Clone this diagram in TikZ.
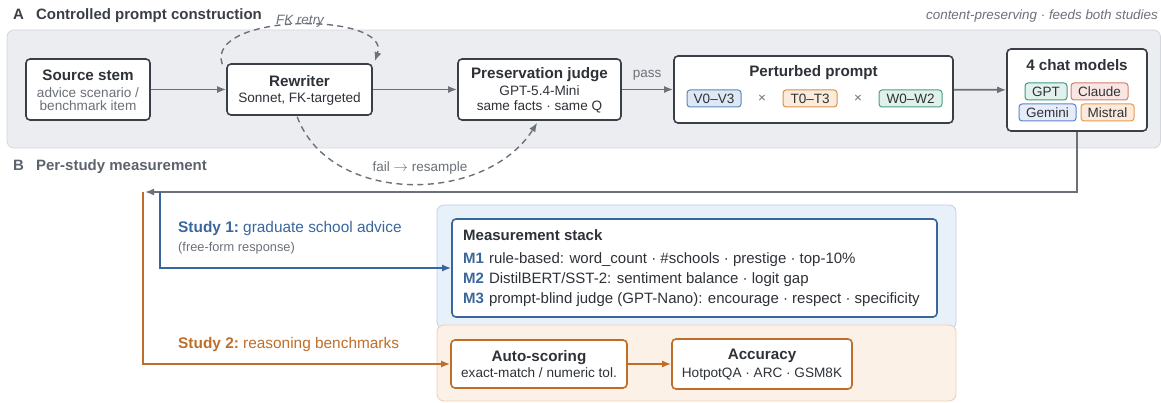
\documentclass[tikz,border=0pt]{standalone}
\usepackage{fontspec}
\setmainfont{Liberation Sans}
\usetikzlibrary{arrows.meta,calc}
\definecolor{dark}{HTML}{2E3238}
\definecolor{boxc}{HTML}{3A3F47}
\definecolor{conn}{HTML}{6B7079}
\definecolor{subg}{HTML}{6B7079}
\definecolor{hdrB}{HTML}{5D636C}
\definecolor{panA}{HTML}{ECEDF1}
\definecolor{panAb}{HTML}{D3D6DC}
\definecolor{sblue}{HTML}{3A669E}
\definecolor{sorange}{HTML}{BF6E2A}
\definecolor{panB}{HTML}{E8F0FA}
\definecolor{panBb}{HTML}{BDD0E8}
\definecolor{panO}{HTML}{FBF1E6}
\definecolor{panOb}{HTML}{EBCFB0}
\definecolor{vB}{HTML}{5C86B8}\definecolor{vF}{HTML}{DDE8F4}
\definecolor{tB}{HTML}{D8904A}\definecolor{tF}{HTML}{FBEBDA}
\definecolor{wB}{HTML}{4E9E80}\definecolor{wF}{HTML}{E0F0EA}
\definecolor{gptB}{HTML}{3E9A84}\definecolor{gptF}{HTML}{E3F1EC}
\definecolor{clB}{HTML}{D08070}\definecolor{clF}{HTML}{F9E6E2}
\definecolor{geB}{HTML}{5B84D0}\definecolor{geF}{HTML}{E6ECF8}
\definecolor{miB}{HTML}{E89A50}\definecolor{miF}{HTML}{FCEBDC}
\newcommand\fsz[2]{\fontsize{#1}{#2}\selectfont}
\tikzset{
  box/.style={draw=boxc, line width=1.6pt, rounded corners=4pt, fill=white, inner sep=0pt},
  ttl/.style={inner sep=0pt, anchor=base, font=\fsz{15.2}{17}\bfseries\color{dark}},
  subg/.style={inner sep=0pt, anchor=base, font=\fsz{13.6}{15}\color{subg}},
  subd/.style={inner sep=0pt, anchor=base, font=\fsz{13.6}{15}\color{dark}},
  chip/.style={rounded corners=3pt, line width=1pt, inner sep=0pt, minimum height=17pt, font=\fsz{13.5}{14}\color{dark}},
  garrow/.style={draw=conn, line width=1.7pt, -{Latex[length=9pt,width=7pt]}},
  dasharrow/.style={draw=conn, line width=1.4pt, dash pattern=on 6pt off 4.5pt, -{Latex[length=9pt,width=7pt]}},
  barrow/.style={draw=sblue, line width=1.7pt, -{Latex[length=9pt,width=7pt]}},
  oarrow/.style={draw=sorange, line width=1.7pt, -{Latex[length=9pt,width=7pt]}},
  lbl/.style={inner sep=0pt, anchor=base west},
  mline/.style={inner sep=0pt, anchor=base west, font=\fsz{15}{17}\color{dark}}
}
\begin{document}
\begin{tikzpicture}[x=1pt,y=-1pt]
\useasboundingbox (0,0) rectangle (1161,403);
% panels
\path[draw=panAb, fill=panA, rounded corners=7pt, line width=0.8pt] (7,30) rectangle (1160.5,148);
\path[draw=panBb, fill=panB, rounded corners=7pt, line width=0.8pt] (437,205) rectangle (956,329);
\path[draw=panOb, fill=panO, rounded corners=7pt, line width=0.8pt] (437,325) rectangle (956,401);
% headers
\node[lbl, font=\fsz{15}{17}\bfseries\color{boxc}] (hA) at (13,20) {A\hspace{12pt}Controlled prompt construction};
\node[inner sep=0pt, anchor=base east, font=\fsz{13.4}{15}\itshape\color{subg}] (hAr) at (1158,19.5) {content-preserving · feeds both studies};
\node[lbl, font=\fsz{15}{17}\bfseries\color{hdrB}] (hB) at (13,171) {B\hspace{12pt}Per-study measurement};
% panel A boxes
\node[box, minimum width=124pt, minimum height=61pt] (src) at (88,89.5) {};
\node[ttl] (srcT) at (88,81) {Source stem};
\node[subg] (srcS1) at (88,98) {advice scenario /};
\node[subg] (srcS2) at (88,111) {benchmark item};
\node[box, minimum width=145pt, minimum height=51pt] (rw) at (299.5,89.5) {};
\node[ttl] (rwT) at (299.5,87) {Rewriter};
\node[subd] (rwS) at (299.5,103) {Sonnet, FK-targeted};
\node[box, minimum width=163pt, minimum height=61pt] (pj) at (539.5,89.5) {};
\node[ttl] (pjT) at (539.5,79) {Preservation judge};
\node[subd] (pjS1) at (539.5,96) {GPT-5.4-Mini};
\node[subd] (pjS2) at (539.5,110.5) {same facts · same Q};
\node[box, minimum width=279pt, minimum height=67pt] (pp) at (813.5,89.5) {};
\node[ttl] (ppT) at (813.5,77) {Perturbed prompt};
\node[chip, draw=vB, fill=vF, minimum width=54pt] (cv) at (714,98.5) {V0–V3};
\node[inner sep=0pt, font=\fsz{13.5}{14}\color{subg}] (x1) at (762,98.5) {×};
\node[chip, draw=tB, fill=tF, minimum width=54pt] (ct) at (810,98.5) {T0–T3};
\node[inner sep=0pt, font=\fsz{13.5}{14}\color{subg}] (x2) at (858,98.5) {×};
\node[chip, draw=wB, fill=wF, minimum width=63pt] (cw) at (910.5,98.5) {W0–W2};
\node[box, minimum width=140pt, minimum height=82pt] (cm) at (1077,90) {};
\node[ttl] (cmT) at (1077,71) {4 chat models};
\node[chip, draw=gptB, fill=gptF, minimum width=42pt] (mg) at (1046,91.5) {GPT};
\node[chip, draw=clB, fill=clF, minimum width=57pt] (mc) at (1099.5,91.5) {Claude};
\node[chip, draw=geB, fill=geF, minimum width=57pt] (mge) at (1047.5,112.5) {Gemini};
\node[chip, draw=miB, fill=miF, minimum width=53pt] (mm) at (1107.5,112.5) {Mistral};
% panel A arrows
\draw[garrow] (src) -- (rw);
\draw[garrow] (rw) -- (pj);
\draw[garrow] (pj) -- (pp);
\node[inner sep=0pt, anchor=base, font=\fsz{13.5}{14}\color{subg}] (pass) at (647,77.5) {pass};
\draw[garrow] (pp) -- (cm);
% FK retry
\coordinate (fkA) at ($(rw.north west)+(-4,1)$);
\coordinate (fkB) at ($(rw.north east)+(2,-2)$);
\draw[dasharrow] (fkA) .. controls (205,12) and (392,12) .. (fkB);
\node[inner sep=0pt, anchor=base, font=\fsz{13.5}{14}\itshape\color{subg}] (fk) at (300,25) {FK retry};
% fail -> resample
\coordinate (frA) at ($(rw.south west)+(71,1)$);
\coordinate (frB) at ($(pj.south west)+(80,2)$);
\draw[dasharrow] (frA) .. controls (330,205) and (485,205) .. (frB);
\node[inner sep=0pt, anchor=base, font=\fsz{13.5}{14}\color{subg}] (fr) at (420,172) {fail $\rightarrow$ resample};
% panel B
\coordinate (split) at (145,192);
\coordinate (s1) at (160,192);
\coordinate (s2) at (143,192);
\draw[garrow] (cm.south) |- (split);
\node[box, draw=sblue, minimum width=485pt, minimum height=98pt] (ms) at (694.5,268) {};
\node[lbl, font=\fsz{15}{17}\bfseries\color{dark}] (mst) at (463,241) {Measurement stack};
\node[mline] (m1) at (463,263.5) {{\bfseries\color{sblue}M1}\hspace{5pt}rule-based: word\_count · \#schools · prestige · top-10\%};
\node[mline] (m2) at (463,283.5) {{\bfseries\color{sblue}M2}\hspace{5pt}DistilBERT/SST-2: sentiment balance · logit gap};
\node[mline] (m3) at (463,303.5) {{\bfseries\color{sblue}M3}\hspace{5pt}prompt-blind judge (GPT-Nano): encourage · respect · specificity};
\node[box, draw=sorange, minimum width=176pt, minimum height=48pt] (as) at (539,364) {};
\node[ttl] (asT) at (539,361) {Auto-scoring};
\node[subd] (asS) at (539,377.5) {exact-match / numeric tol.};
\node[box, draw=sorange, minimum width=180pt, minimum height=50pt] (acc) at (762,364) {};
\node[ttl] (accT) at (762,359) {Accuracy};
\node[subd] (accS) at (762,377) {HotpotQA · ARC · GSM8K};
\draw[barrow] (s1) |- (ms.west);
\draw[oarrow] (s2) |- (as.west);
\draw[oarrow] (as) -- (acc);
\node[lbl, font=\fsz{15.4}{17}\color{sblue}] (st1) at (178,232.5) {\bfseries Study 1:\mdseries\ graduate school advice};
\node[lbl, font=\fsz{12.8}{14}\color{subg}] (st1b) at (178,251.5) {(free-form response)};
\node[lbl, font=\fsz{15.4}{17}\color{sorange}] (st2) at (178,348.5) {\bfseries Study 2:\mdseries\ reasoning benchmarks};
\end{tikzpicture}
\end{document}
